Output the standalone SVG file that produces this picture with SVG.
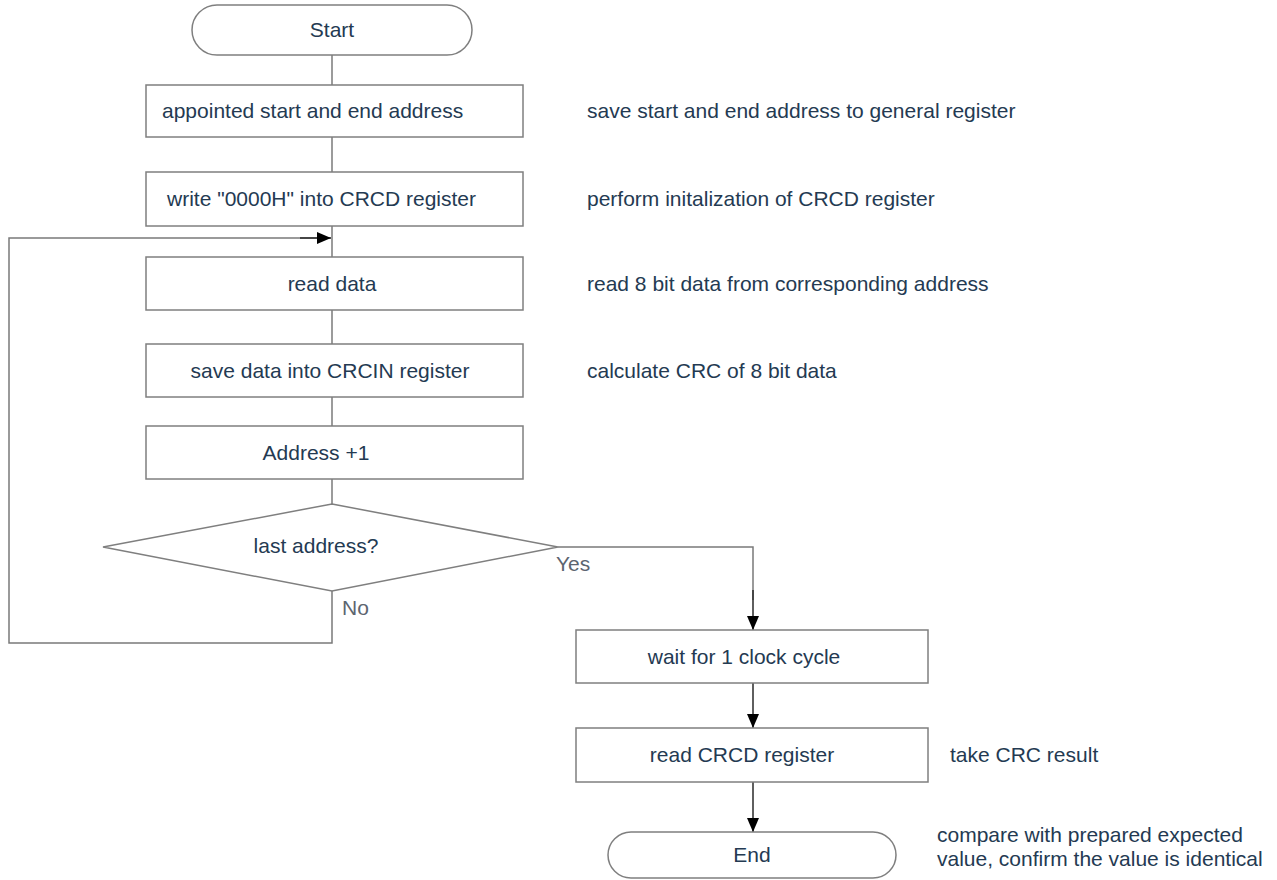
<svg xmlns="http://www.w3.org/2000/svg" width="1277" height="880" viewBox="0 0 1277 880">
<style>
.box{fill:#fff;stroke:#7f7f7f;stroke-width:1.5}
.t{font-family:"Liberation Sans",Arial,sans-serif;font-size:21px;fill:#243a52}
.c{text-anchor:middle}
.lbl{font-family:"Liberation Sans",Arial,sans-serif;font-size:21px;fill:#5d6570}
.ln{fill:none;stroke:#7a7a7a;stroke-width:1.5}
.ar{fill:none;stroke:#2a2a2a;stroke-width:1.5;marker-end:url(#ah)}
</style>
<defs>
<marker id="ah" viewBox="0 0 14 12" refX="14" refY="6" markerWidth="14" markerHeight="12" markerUnits="userSpaceOnUse" orient="auto">
<path d="M0,0 L14,6 L0,12 Z" fill="#000"/>
</marker>
</defs>
<rect width="1277" height="880" fill="#fff"/>
<g id="connectors">
<line class="ln" x1="332" y1="55" x2="332" y2="85"/>
<line class="ln" x1="332" y1="137" x2="332" y2="172"/>
<line class="ln" x1="332" y1="226" x2="332" y2="257"/>
<line class="ln" x1="332" y1="310" x2="332" y2="344"/>
<line class="ln" x1="332" y1="397" x2="332" y2="426"/>
<line class="ln" x1="332" y1="479" x2="332" y2="504"/>
<polyline class="ln" points="332,591 332,643 9,643 9,238 318,238"/>
<line class="ar" x1="300" y1="238" x2="331" y2="238"/>
<polyline class="ln" points="558,547 753,547 753,600"/>
<line class="ar" x1="753" y1="590" x2="753" y2="630"/>
<line class="ar" x1="753" y1="683" x2="753" y2="728"/>
<line class="ar" x1="753" y1="782" x2="753" y2="832"/>
<text class="lbl" x="556" y="571">Yes</text>
<text class="lbl" x="342" y="615">No</text>
</g>
<g id="start">
<rect class="box" x="192" y="5" width="280" height="50" rx="25" ry="25"/>
<text class="t c" x="332" y="37">Start</text>
</g>
<g id="n1">
<rect class="box" x="146" y="85" width="377" height="52"/>
<text class="t" x="162" y="118">appointed start and end address</text>
<text class="t" x="587" y="118">save start and end address to general register</text>
</g>
<g id="n2">
<rect class="box" x="146" y="172" width="377" height="54"/>
<text class="t" x="167" y="206">write "0000H" into CRCD register</text>
<text class="t" x="587" y="206">perform initalization of CRCD register</text>
</g>
<g id="n3">
<rect class="box" x="146" y="257" width="377" height="53"/>
<text class="t c" x="332" y="291">read data</text>
<text class="t" x="587" y="291">read 8 bit data from corresponding address</text>
</g>
<g id="n4">
<rect class="box" x="146" y="344" width="377" height="53"/>
<text class="t c" x="330" y="378">save data into CRCIN register</text>
<text class="t" x="587" y="378">calculate CRC of 8 bit data</text>
</g>
<g id="n5">
<rect class="box" x="146" y="426" width="377" height="53"/>
<text class="t c" x="316" y="460">Address +1</text>
</g>
<g id="decision">
<polygon class="box" points="332,504 558,547 332,591 103,547"/>
<text class="t c" x="316" y="553">last address?</text>
</g>
<g id="n6">
<rect class="box" x="576" y="630" width="352" height="53"/>
<text class="t c" x="744" y="664">wait for 1 clock cycle</text>
</g>
<g id="n7">
<rect class="box" x="576" y="728" width="352" height="54"/>
<text class="t c" x="742" y="762">read CRCD register</text>
<text class="t" x="950" y="762">take CRC result</text>
</g>
<g id="end">
<rect class="box" x="608" y="832" width="288" height="46" rx="23" ry="23"/>
<text class="t c" x="752" y="862">End</text>
<text class="t" x="937" y="842">compare with prepared expected</text>
<text class="t" x="937" y="866">value, confirm the value is identical</text>
</g>
</svg>
